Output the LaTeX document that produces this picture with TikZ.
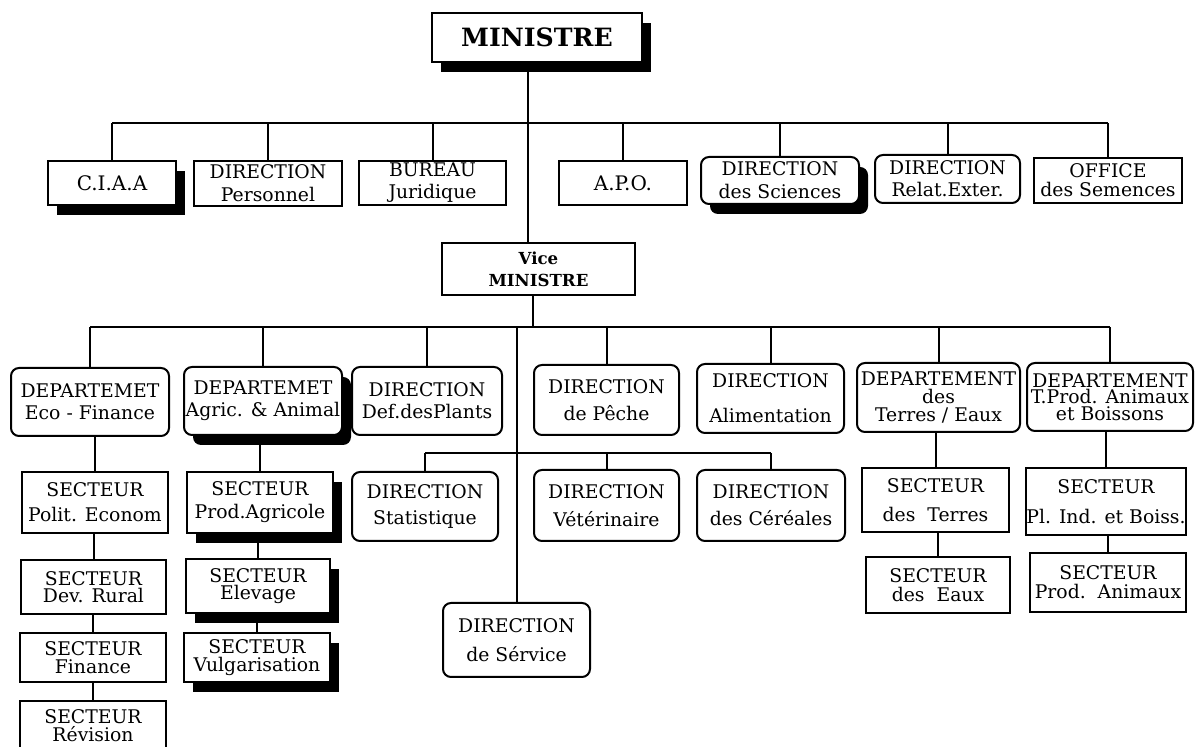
\documentclass[tikz,border=0pt]{standalone}
\usepackage{fontspec}
\setmainfont{DejaVu Serif}
\usetikzlibrary{shadows}
\tikzset{
  box/.style={draw, line width=1pt, fill=white, inner sep=0pt, align=center,
    font=\fontsize{9.4}{11}\selectfont},
  rbox/.style={box, rounded corners=4pt},
  shad/.style={drop shadow={shadow xshift=4.5pt, shadow yshift=-5pt, fill=black, opacity=1}},
  link/.style={line width=1pt},
}
\newcommand\mkbox[7]{%
  \pgfmathsetmacro\mkw{(#5-#3)/2}%
  \pgfmathsetmacro\mkh{(#6-#4)/2}%
  \node[#2, minimum width=\mkw pt, minimum height=\mkh pt] (#1) at ({(#3+#5)/2},{(#4+#6)/2}) {#7};%
}
\begin{document}
\begin{tikzpicture}[x=0.5pt,y=-0.5pt]
\useasboundingbox (0,0) rectangle (1195,747);
\clip (0,0) rectangle (1195,747);
\fill[white] (0,0) rectangle (1195,747);

% ---- top level
\mkbox{mini}{box,shad}{432}{13}{642}{62}{\fontsize{12.6}{14}\selectfont\bfseries MINISTRE}
\mkbox{ciaa}{box,shad}{48}{161}{176}{205}{\fontsize{10}{12}\selectfont C.I.A.A}
\mkbox{pers}{box}{194}{161}{342}{206}{DIRECTION\\[0.5pt]Personnel}
\mkbox{bur}{box}{359}{161}{506}{205}{BUREAU\\Juridique}
\mkbox{apo}{box}{559}{161}{687}{205}{\fontsize{10}{12}\selectfont A.P.O.}
\mkbox{sci}{rbox,shad}{701}{157}{859}{204}{DIRECTION\\[0.5pt]des Sciences}
\mkbox{rel}{rbox}{875}{155}{1020}{203}{DIRECTION\\Relat.Exter.}
\mkbox{off}{box}{1034}{158}{1182}{203}{OFFICE\\[-1.5pt]des Semences}

\mkbox{vice}{box}{442}{243}{635}{295}{\fontsize{8.3}{9.5}\selectfont\bfseries Vice\\\fontsize{8.3}{9.5}\selectfont\bfseries MINISTRE}

% ---- second level
\mkbox{eco}{rbox}{11}{368}{169}{436}{DEPARTEMET\\Eco - Finance}
\mkbox{agr}{rbox,shad}{184}{367}{342}{435}{DEPARTEMET\\Agric. \& Animal}
\mkbox{def}{rbox}{352}{367}{502}{435}{DIRECTION\\Def.desPlants}
\mkbox{pec}{rbox}{534}{365}{679}{435}{DIRECTION\\[2.5pt]de Pêche}
\mkbox{ali}{rbox}{697}{364}{844}{433}{DIRECTION\\[6.5pt]Alimentation}
\mkbox{ter}{rbox}{857}{363}{1020}{432}{DEPARTEMENT\\[-1.8pt]des\\[-1.8pt]Terres / Eaux}
\mkbox{tpr}{rbox}{1027}{363}{1193}{431}{DEPARTEMENT\\[-2.7pt]T.Prod. Animaux\\[-2.7pt]et Boissons}

% ---- third level
\mkbox{pol}{box}{22}{472}{168}{533}{SECTEUR\\[1.5pt]Polit. Econom}
\mkbox{pag}{box,shad}{187}{472}{333}{533}{SECTEUR\\[0.5pt]Prod.Agricole}
\mkbox{sta}{rbox}{352}{472}{498}{541}{DIRECTION\\[2pt]Statistique}
\mkbox{vet}{rbox}{534}{470}{679}{541}{DIRECTION\\[3pt]Vétérinaire}
\mkbox{cer}{rbox}{697}{470}{845}{541}{DIRECTION\\[2.5pt]des Céréales}
\mkbox{dte}{box}{862}{468}{1009}{532}{SECTEUR\\[3.5pt]des~~Terres}
\mkbox{pli}{box}{1026}{468}{1186}{535}{SECTEUR\\[4pt]Pl. Ind. et Boiss.}

% ---- fourth level
\mkbox{dev}{box}{21}{560}{166}{614}{SECTEUR\\[-2.6pt]Dev. Rural}
\mkbox{ele}{box,shad}{186}{559}{330}{613}{SECTEUR\\[-2.6pt]Elevage}
\mkbox{ser}{rbox}{443}{603}{590}{677}{DIRECTION\\[3.5pt]de Sérvice}
\mkbox{eau}{box}{866}{557}{1010}{613}{SECTEUR\\[-1.5pt]des~~Eaux}
\mkbox{ani}{box}{1030}{553}{1186}{612}{SECTEUR\\[-1.5pt]Prod.~~Animaux}

% ---- fifth / sixth level
\mkbox{fin}{box}{20}{633}{166}{682}{SECTEUR\\[-2pt]Finance}
\mkbox{vul}{box,shad}{184}{633}{330}{682}{SECTEUR\\[-2.3pt]Vulgarisation}
\mkbox{rev}{box}{20}{701}{166}{750}{SECTEUR\\[-2pt]Révision}

% ---- connectors
\coordinate (bus1) at (0,123);
\coordinate (bus2) at (0,327);
\coordinate (bus3) at (0,453);
\coordinate (mx) at (528,0);
\coordinate (vx) at (533,0);

\draw[link] (mini.south -| mx) -- (vice.north -| mx);
\draw[link] (ciaa.north |- bus1) -- (off.north |- bus1);
\foreach \n in {ciaa,pers,bur,apo,sci,rel,off}
  \draw[link] (\n.north) -- (\n.north |- bus1);

\draw[link] (vice.south -| vx) -- (bus2 -| vx);
\draw[link] (eco.north |- bus2) -- (tpr.north |- bus2);
\foreach \n in {eco,agr,def,pec,ali,ter,tpr,ser}
  \draw[link] (\n.north) -- (\n.north |- bus2);

\draw[link] (sta.north |- bus3) -- (cer.north |- bus3);
\foreach \n in {sta,vet,cer}
  \draw[link] (\n.north) -- (\n.north |- bus3);

\draw[link] (pol.north) -- (pol.north |- eco.south);
\draw[link] (dev.north) -- (dev.north |- pol.south);
\draw[link] (fin.north) -- (fin.north |- dev.south);
\draw[link] (rev.north) -- (rev.north |- fin.south);

\draw[link] (pag.north) -- (pag.north |- agr.south);
\draw[link] (ele.north) -- (ele.north |- pag.south);
\draw[link] (vul.north) -- (vul.north |- ele.south);

\draw[link] (dte.north) -- (dte.north |- ter.south);
\draw[link] (eau.north) -- (eau.north |- dte.south);
\draw[link] (pli.north) -- (pli.north |- tpr.south);
\draw[link] (ani.north) -- (ani.north |- pli.south);
\end{tikzpicture}
\end{document}
